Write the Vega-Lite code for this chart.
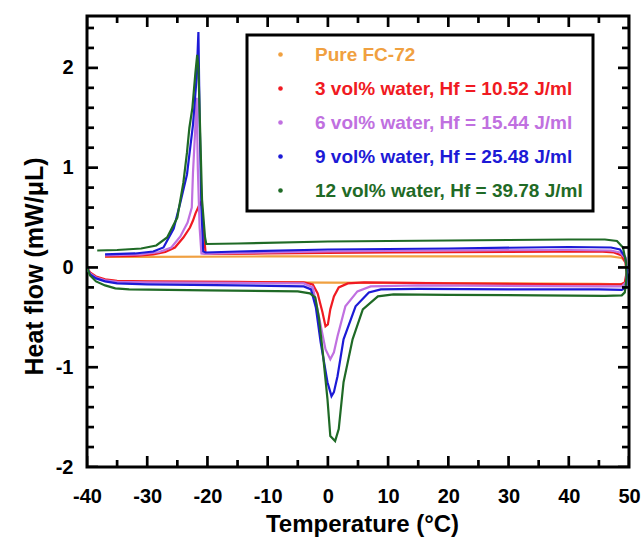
{
  "$schema": "https://vega.github.io/schema/vega-lite/v6.json",
  "width": 542,
  "height": 451,
  "autosize": {"type": "none"},
  "padding": {"left": 87, "top": 16, "right": 13, "bottom": 71},
  "background": "white",
  "config": {
    "view": {"stroke": "black", "strokeWidth": 3},
    "font": "Liberation Sans",
    "axis": {"grid": false, "domain": false, "ticks": false, "labelColor": "black", "titleColor": "black", "labelFont": "Liberation Sans", "titleFont": "Liberation Sans", "labelFontSize": 20, "labelFontWeight": "bold", "titleFontSize": 24, "titleFontWeight": "bold", "labelFlush": false, "labelOverlap": false}
  },
  "resolve": {"axis": {"x": "independent", "y": "independent"}},
  "datasets": {
    "xticks": [
      {"v":-40,"k":"major"},{"v":-35,"k":"minor"},{"v":-30,"k":"major"},{"v":-25,"k":"minor"},{"v":-20,"k":"major"},{"v":-15,"k":"minor"},{"v":-10,"k":"major"},{"v":-5,"k":"minor"},{"v":0,"k":"major"},{"v":5,"k":"minor"},{"v":10,"k":"major"},{"v":15,"k":"minor"},{"v":20,"k":"major"},{"v":25,"k":"minor"},{"v":30,"k":"major"},{"v":35,"k":"minor"},{"v":40,"k":"major"},{"v":45,"k":"minor"},{"v":50,"k":"major"}
    ],
    "yticks": [
      {"v":-2,"k":"major"},{"v":-1.8,"k":"minor"},{"v":-1.6,"k":"minor"},{"v":-1.4,"k":"minor"},{"v":-1.2,"k":"minor"},{"v":-1,"k":"major"},{"v":-0.8,"k":"minor"},{"v":-0.6,"k":"minor"},{"v":-0.4,"k":"minor"},{"v":-0.2,"k":"minor"},{"v":0,"k":"major"},{"v":0.2,"k":"minor"},{"v":0.4,"k":"minor"},{"v":0.6,"k":"minor"},{"v":0.8,"k":"minor"},{"v":1,"k":"major"},{"v":1.2,"k":"minor"},{"v":1.4,"k":"minor"},{"v":1.6,"k":"minor"},{"v":1.8,"k":"minor"},{"v":2,"k":"major"},{"v":2.2,"k":"minor"},{"v":2.4,"k":"minor"}
    ],
    "curves": [
    {"s":"Pure FC-72","i":1,"T":-40,"Q":0.0},{"s":"Pure FC-72","i":2,"T":-39.5,"Q":-0.06},{"s":"Pure FC-72","i":3,"T":-38.5,"Q":-0.1},{"s":"Pure FC-72","i":4,"T":-37,"Q":-0.125},{"s":"Pure FC-72","i":5,"T":-35,"Q":-0.14},{"s":"Pure FC-72","i":6,"T":-30,"Q":-0.145},{"s":"Pure FC-72","i":7,"T":-10,"Q":-0.15},{"s":"Pure FC-72","i":8,"T":10,"Q":-0.155},{"s":"Pure FC-72","i":9,"T":30,"Q":-0.16},{"s":"Pure FC-72","i":10,"T":45,"Q":-0.165},{"s":"Pure FC-72","i":11,"T":48.8,"Q":-0.17},{"s":"Pure FC-72","i":12,"T":49.4,"Q":-0.15},{"s":"Pure FC-72","i":13,"T":49.7,"Q":-0.05},{"s":"Pure FC-72","i":14,"T":49.5,"Q":0.05},{"s":"Pure FC-72","i":15,"T":48.8,"Q":0.095},{"s":"Pure FC-72","i":16,"T":47,"Q":0.11},{"s":"Pure FC-72","i":17,"T":30,"Q":0.11},{"s":"Pure FC-72","i":18,"T":10,"Q":0.11},{"s":"Pure FC-72","i":19,"T":-10,"Q":0.11},{"s":"Pure FC-72","i":20,"T":-30,"Q":0.105},{"s":"Pure FC-72","i":21,"T":-37,"Q":0.105},

    {"s":"3 vol% water, Hf = 10.52 J/ml","i":1,"T":-40,"Q":0.0},{"s":"3 vol% water, Hf = 10.52 J/ml","i":2,"T":-39.5,"Q":-0.05},{"s":"3 vol% water, Hf = 10.52 J/ml","i":3,"T":-38.5,"Q":-0.09},{"s":"3 vol% water, Hf = 10.52 J/ml","i":4,"T":-37,"Q":-0.12},{"s":"3 vol% water, Hf = 10.52 J/ml","i":5,"T":-35,"Q":-0.135},{"s":"3 vol% water, Hf = 10.52 J/ml","i":6,"T":-30,"Q":-0.14},{"s":"3 vol% water, Hf = 10.52 J/ml","i":7,"T":-15,"Q":-0.145},{"s":"3 vol% water, Hf = 10.52 J/ml","i":8,"T":-4,"Q":-0.15},{"s":"3 vol% water, Hf = 10.52 J/ml","i":9,"T":-2.5,"Q":-0.17},{"s":"3 vol% water, Hf = 10.52 J/ml","i":10,"T":-1.7,"Q":-0.26},{"s":"3 vol% water, Hf = 10.52 J/ml","i":11,"T":-0.9,"Q":-0.45},{"s":"3 vol% water, Hf = 10.52 J/ml","i":12,"T":-0.4,"Q":-0.59},{"s":"3 vol% water, Hf = 10.52 J/ml","i":13,"T":0.0,"Q":-0.57},{"s":"3 vol% water, Hf = 10.52 J/ml","i":14,"T":0.4,"Q":-0.42},{"s":"3 vol% water, Hf = 10.52 J/ml","i":15,"T":1.0,"Q":-0.29},{"s":"3 vol% water, Hf = 10.52 J/ml","i":16,"T":1.8,"Q":-0.2},{"s":"3 vol% water, Hf = 10.52 J/ml","i":17,"T":3.3,"Q":-0.16},{"s":"3 vol% water, Hf = 10.52 J/ml","i":18,"T":6,"Q":-0.15},{"s":"3 vol% water, Hf = 10.52 J/ml","i":19,"T":20,"Q":-0.16},{"s":"3 vol% water, Hf = 10.52 J/ml","i":20,"T":40,"Q":-0.17},{"s":"3 vol% water, Hf = 10.52 J/ml","i":21,"T":48.6,"Q":-0.17},{"s":"3 vol% water, Hf = 10.52 J/ml","i":22,"T":49.3,"Q":-0.15},{"s":"3 vol% water, Hf = 10.52 J/ml","i":23,"T":49.6,"Q":-0.05},{"s":"3 vol% water, Hf = 10.52 J/ml","i":24,"T":49.4,"Q":0.05},{"s":"3 vol% water, Hf = 10.52 J/ml","i":25,"T":48.8,"Q":0.12},{"s":"3 vol% water, Hf = 10.52 J/ml","i":26,"T":47.5,"Q":0.15},{"s":"3 vol% water, Hf = 10.52 J/ml","i":27,"T":45,"Q":0.16},{"s":"3 vol% water, Hf = 10.52 J/ml","i":28,"T":30,"Q":0.155},{"s":"3 vol% water, Hf = 10.52 J/ml","i":29,"T":10,"Q":0.15},{"s":"3 vol% water, Hf = 10.52 J/ml","i":30,"T":-10,"Q":0.14},{"s":"3 vol% water, Hf = 10.52 J/ml","i":31,"T":-19,"Q":0.135},{"s":"3 vol% water, Hf = 10.52 J/ml","i":32,"T":-20.3,"Q":0.14},{"s":"3 vol% water, Hf = 10.52 J/ml","i":33,"T":-20.6,"Q":0.35},{"s":"3 vol% water, Hf = 10.52 J/ml","i":34,"T":-21.0,"Q":0.66},{"s":"3 vol% water, Hf = 10.52 J/ml","i":35,"T":-21.4,"Q":0.62},{"s":"3 vol% water, Hf = 10.52 J/ml","i":36,"T":-22,"Q":0.54},{"s":"3 vol% water, Hf = 10.52 J/ml","i":37,"T":-22.4,"Q":0.47},{"s":"3 vol% water, Hf = 10.52 J/ml","i":38,"T":-22.9,"Q":0.4},{"s":"3 vol% water, Hf = 10.52 J/ml","i":39,"T":-24,"Q":0.3},{"s":"3 vol% water, Hf = 10.52 J/ml","i":40,"T":-25.4,"Q":0.2},{"s":"3 vol% water, Hf = 10.52 J/ml","i":41,"T":-27,"Q":0.155},{"s":"3 vol% water, Hf = 10.52 J/ml","i":42,"T":-29,"Q":0.13},{"s":"3 vol% water, Hf = 10.52 J/ml","i":43,"T":-32,"Q":0.115},{"s":"3 vol% water, Hf = 10.52 J/ml","i":44,"T":-37,"Q":0.11},

    {"s":"6 vol% water, Hf = 15.44 J/ml","i":1,"T":-40,"Q":0.0},{"s":"6 vol% water, Hf = 15.44 J/ml","i":2,"T":-39.5,"Q":-0.06},{"s":"6 vol% water, Hf = 15.44 J/ml","i":3,"T":-38.5,"Q":-0.1},{"s":"6 vol% water, Hf = 15.44 J/ml","i":4,"T":-37,"Q":-0.13},{"s":"6 vol% water, Hf = 15.44 J/ml","i":5,"T":-35,"Q":-0.145},{"s":"6 vol% water, Hf = 15.44 J/ml","i":6,"T":-30,"Q":-0.15},{"s":"6 vol% water, Hf = 15.44 J/ml","i":7,"T":-15,"Q":-0.155},{"s":"6 vol% water, Hf = 15.44 J/ml","i":8,"T":-4,"Q":-0.16},{"s":"6 vol% water, Hf = 15.44 J/ml","i":9,"T":-2.5,"Q":-0.2},{"s":"6 vol% water, Hf = 15.44 J/ml","i":10,"T":-1.5,"Q":-0.49},{"s":"6 vol% water, Hf = 15.44 J/ml","i":11,"T":-0.4,"Q":-0.82},{"s":"6 vol% water, Hf = 15.44 J/ml","i":12,"T":0.4,"Q":-0.92},{"s":"6 vol% water, Hf = 15.44 J/ml","i":13,"T":1.0,"Q":-0.85},{"s":"6 vol% water, Hf = 15.44 J/ml","i":14,"T":1.6,"Q":-0.69},{"s":"6 vol% water, Hf = 15.44 J/ml","i":15,"T":2.9,"Q":-0.39},{"s":"6 vol% water, Hf = 15.44 J/ml","i":16,"T":4.9,"Q":-0.24},{"s":"6 vol% water, Hf = 15.44 J/ml","i":17,"T":7.1,"Q":-0.19},{"s":"6 vol% water, Hf = 15.44 J/ml","i":18,"T":15,"Q":-0.18},{"s":"6 vol% water, Hf = 15.44 J/ml","i":19,"T":30,"Q":-0.185},{"s":"6 vol% water, Hf = 15.44 J/ml","i":20,"T":45,"Q":-0.19},{"s":"6 vol% water, Hf = 15.44 J/ml","i":21,"T":48.8,"Q":-0.19},{"s":"6 vol% water, Hf = 15.44 J/ml","i":22,"T":49.5,"Q":-0.15},{"s":"6 vol% water, Hf = 15.44 J/ml","i":23,"T":49.7,"Q":-0.02},{"s":"6 vol% water, Hf = 15.44 J/ml","i":24,"T":49.3,"Q":0.1},{"s":"6 vol% water, Hf = 15.44 J/ml","i":25,"T":48.5,"Q":0.15},{"s":"6 vol% water, Hf = 15.44 J/ml","i":26,"T":47,"Q":0.17},{"s":"6 vol% water, Hf = 15.44 J/ml","i":27,"T":40,"Q":0.175},{"s":"6 vol% water, Hf = 15.44 J/ml","i":28,"T":20,"Q":0.17},{"s":"6 vol% water, Hf = 15.44 J/ml","i":29,"T":0,"Q":0.16},{"s":"6 vol% water, Hf = 15.44 J/ml","i":30,"T":-15,"Q":0.145},{"s":"6 vol% water, Hf = 15.44 J/ml","i":31,"T":-20.5,"Q":0.135},{"s":"6 vol% water, Hf = 15.44 J/ml","i":32,"T":-21.0,"Q":0.14},{"s":"6 vol% water, Hf = 15.44 J/ml","i":33,"T":-21.3,"Q":0.4},{"s":"6 vol% water, Hf = 15.44 J/ml","i":34,"T":-21.6,"Q":1.0},{"s":"6 vol% water, Hf = 15.44 J/ml","i":35,"T":-21.8,"Q":1.7},{"s":"6 vol% water, Hf = 15.44 J/ml","i":36,"T":-22.1,"Q":1.3},{"s":"6 vol% water, Hf = 15.44 J/ml","i":37,"T":-22.4,"Q":0.95},{"s":"6 vol% water, Hf = 15.44 J/ml","i":38,"T":-22.6,"Q":0.6},{"s":"6 vol% water, Hf = 15.44 J/ml","i":39,"T":-23.3,"Q":0.45},{"s":"6 vol% water, Hf = 15.44 J/ml","i":40,"T":-24.5,"Q":0.31},{"s":"6 vol% water, Hf = 15.44 J/ml","i":41,"T":-26,"Q":0.2},{"s":"6 vol% water, Hf = 15.44 J/ml","i":42,"T":-28,"Q":0.155},{"s":"6 vol% water, Hf = 15.44 J/ml","i":43,"T":-31,"Q":0.13},{"s":"6 vol% water, Hf = 15.44 J/ml","i":44,"T":-37,"Q":0.12},

    {"s":"9 vol% water, Hf = 25.48 J/ml","i":1,"T":-40,"Q":0.0},{"s":"9 vol% water, Hf = 25.48 J/ml","i":2,"T":-39.5,"Q":-0.07},{"s":"9 vol% water, Hf = 25.48 J/ml","i":3,"T":-38.5,"Q":-0.11},{"s":"9 vol% water, Hf = 25.48 J/ml","i":4,"T":-37,"Q":-0.14},{"s":"9 vol% water, Hf = 25.48 J/ml","i":5,"T":-35,"Q":-0.16},{"s":"9 vol% water, Hf = 25.48 J/ml","i":6,"T":-30,"Q":-0.17},{"s":"9 vol% water, Hf = 25.48 J/ml","i":7,"T":-15,"Q":-0.18},{"s":"9 vol% water, Hf = 25.48 J/ml","i":8,"T":-4,"Q":-0.19},{"s":"9 vol% water, Hf = 25.48 J/ml","i":9,"T":-2.8,"Q":-0.22},{"s":"9 vol% water, Hf = 25.48 J/ml","i":10,"T":-2.0,"Q":-0.4},{"s":"9 vol% water, Hf = 25.48 J/ml","i":11,"T":-1.2,"Q":-0.75},{"s":"9 vol% water, Hf = 25.48 J/ml","i":12,"T":-0.07,"Q":-1.15},{"s":"9 vol% water, Hf = 25.48 J/ml","i":13,"T":0.6,"Q":-1.29},{"s":"9 vol% water, Hf = 25.48 J/ml","i":14,"T":1.0,"Q":-1.25},{"s":"9 vol% water, Hf = 25.48 J/ml","i":15,"T":1.6,"Q":-1.09},{"s":"9 vol% water, Hf = 25.48 J/ml","i":16,"T":2.6,"Q":-0.72},{"s":"9 vol% water, Hf = 25.48 J/ml","i":17,"T":4.6,"Q":-0.39},{"s":"9 vol% water, Hf = 25.48 J/ml","i":18,"T":6.8,"Q":-0.25},{"s":"9 vol% water, Hf = 25.48 J/ml","i":19,"T":8.8,"Q":-0.22},{"s":"9 vol% water, Hf = 25.48 J/ml","i":20,"T":15,"Q":-0.215},{"s":"9 vol% water, Hf = 25.48 J/ml","i":21,"T":30,"Q":-0.22},{"s":"9 vol% water, Hf = 25.48 J/ml","i":22,"T":45,"Q":-0.22},{"s":"9 vol% water, Hf = 25.48 J/ml","i":23,"T":48.8,"Q":-0.225},{"s":"9 vol% water, Hf = 25.48 J/ml","i":24,"T":49.5,"Q":-0.2},{"s":"9 vol% water, Hf = 25.48 J/ml","i":25,"T":49.7,"Q":-0.05},{"s":"9 vol% water, Hf = 25.48 J/ml","i":26,"T":49.4,"Q":0.1},{"s":"9 vol% water, Hf = 25.48 J/ml","i":27,"T":48.5,"Q":0.18},{"s":"9 vol% water, Hf = 25.48 J/ml","i":28,"T":47,"Q":0.2},{"s":"9 vol% water, Hf = 25.48 J/ml","i":29,"T":40,"Q":0.205},{"s":"9 vol% water, Hf = 25.48 J/ml","i":30,"T":20,"Q":0.19},{"s":"9 vol% water, Hf = 25.48 J/ml","i":31,"T":0,"Q":0.18},{"s":"9 vol% water, Hf = 25.48 J/ml","i":32,"T":-15,"Q":0.16},{"s":"9 vol% water, Hf = 25.48 J/ml","i":33,"T":-20.3,"Q":0.15},{"s":"9 vol% water, Hf = 25.48 J/ml","i":34,"T":-20.7,"Q":0.16},{"s":"9 vol% water, Hf = 25.48 J/ml","i":35,"T":-21.0,"Q":0.6},{"s":"9 vol% water, Hf = 25.48 J/ml","i":36,"T":-21.3,"Q":1.5},{"s":"9 vol% water, Hf = 25.48 J/ml","i":37,"T":-21.5,"Q":2.36},{"s":"9 vol% water, Hf = 25.48 J/ml","i":38,"T":-21.8,"Q":1.9},{"s":"9 vol% water, Hf = 25.48 J/ml","i":39,"T":-22.4,"Q":1.43},{"s":"9 vol% water, Hf = 25.48 J/ml","i":40,"T":-23.4,"Q":0.93},{"s":"9 vol% water, Hf = 25.48 J/ml","i":41,"T":-24.5,"Q":0.65},{"s":"9 vol% water, Hf = 25.48 J/ml","i":42,"T":-25.6,"Q":0.39},{"s":"9 vol% water, Hf = 25.48 J/ml","i":43,"T":-27.3,"Q":0.2},{"s":"9 vol% water, Hf = 25.48 J/ml","i":44,"T":-29,"Q":0.16},{"s":"9 vol% water, Hf = 25.48 J/ml","i":45,"T":-32,"Q":0.14},{"s":"9 vol% water, Hf = 25.48 J/ml","i":46,"T":-37,"Q":0.13},

    {"s":"12 vol% water, Hf = 39.78 J/ml","i":1,"T":-40,"Q":0.0},{"s":"12 vol% water, Hf = 39.78 J/ml","i":2,"T":-39.5,"Q":-0.08},{"s":"12 vol% water, Hf = 39.78 J/ml","i":3,"T":-38.5,"Q":-0.14},{"s":"12 vol% water, Hf = 39.78 J/ml","i":4,"T":-37,"Q":-0.18},{"s":"12 vol% water, Hf = 39.78 J/ml","i":5,"T":-35.3,"Q":-0.21},{"s":"12 vol% water, Hf = 39.78 J/ml","i":6,"T":-33,"Q":-0.22},{"s":"12 vol% water, Hf = 39.78 J/ml","i":7,"T":-20,"Q":-0.23},{"s":"12 vol% water, Hf = 39.78 J/ml","i":8,"T":-5,"Q":-0.24},{"s":"12 vol% water, Hf = 39.78 J/ml","i":9,"T":-3,"Q":-0.26},{"s":"12 vol% water, Hf = 39.78 J/ml","i":10,"T":-2.1,"Q":-0.3},{"s":"12 vol% water, Hf = 39.78 J/ml","i":11,"T":-1.5,"Q":-0.5},{"s":"12 vol% water, Hf = 39.78 J/ml","i":12,"T":-0.9,"Q":-0.82},{"s":"12 vol% water, Hf = 39.78 J/ml","i":13,"T":-0.07,"Q":-1.32},{"s":"12 vol% water, Hf = 39.78 J/ml","i":14,"T":0.4,"Q":-1.69},{"s":"12 vol% water, Hf = 39.78 J/ml","i":15,"T":1.2,"Q":-1.74},{"s":"12 vol% water, Hf = 39.78 J/ml","i":16,"T":1.8,"Q":-1.62},{"s":"12 vol% water, Hf = 39.78 J/ml","i":17,"T":2.6,"Q":-1.15},{"s":"12 vol% water, Hf = 39.78 J/ml","i":18,"T":4.1,"Q":-0.72},{"s":"12 vol% water, Hf = 39.78 J/ml","i":19,"T":5.8,"Q":-0.42},{"s":"12 vol% water, Hf = 39.78 J/ml","i":20,"T":8.3,"Q":-0.29},{"s":"12 vol% water, Hf = 39.78 J/ml","i":21,"T":10.9,"Q":-0.27},{"s":"12 vol% water, Hf = 39.78 J/ml","i":22,"T":20,"Q":-0.275},{"s":"12 vol% water, Hf = 39.78 J/ml","i":23,"T":35,"Q":-0.28},{"s":"12 vol% water, Hf = 39.78 J/ml","i":24,"T":46,"Q":-0.285},{"s":"12 vol% water, Hf = 39.78 J/ml","i":25,"T":48.8,"Q":-0.28},{"s":"12 vol% water, Hf = 39.78 J/ml","i":26,"T":49.3,"Q":-0.25},{"s":"12 vol% water, Hf = 39.78 J/ml","i":27,"T":49.6,"Q":-0.1},{"s":"12 vol% water, Hf = 39.78 J/ml","i":28,"T":49.5,"Q":0.05},{"s":"12 vol% water, Hf = 39.78 J/ml","i":29,"T":49.0,"Q":0.2},{"s":"12 vol% water, Hf = 39.78 J/ml","i":30,"T":48.0,"Q":0.265},{"s":"12 vol% water, Hf = 39.78 J/ml","i":31,"T":46,"Q":0.28},{"s":"12 vol% water, Hf = 39.78 J/ml","i":32,"T":40,"Q":0.28},{"s":"12 vol% water, Hf = 39.78 J/ml","i":33,"T":30,"Q":0.275},{"s":"12 vol% water, Hf = 39.78 J/ml","i":34,"T":20,"Q":0.27},{"s":"12 vol% water, Hf = 39.78 J/ml","i":35,"T":0,"Q":0.26},{"s":"12 vol% water, Hf = 39.78 J/ml","i":36,"T":-15,"Q":0.24},{"s":"12 vol% water, Hf = 39.78 J/ml","i":37,"T":-20.2,"Q":0.235},{"s":"12 vol% water, Hf = 39.78 J/ml","i":38,"T":-20.4,"Q":0.3},{"s":"12 vol% water, Hf = 39.78 J/ml","i":39,"T":-20.9,"Q":0.68},{"s":"12 vol% water, Hf = 39.78 J/ml","i":40,"T":-21.2,"Q":1.35},{"s":"12 vol% water, Hf = 39.78 J/ml","i":41,"T":-21.5,"Q":2.0},{"s":"12 vol% water, Hf = 39.78 J/ml","i":42,"T":-21.7,"Q":2.13},{"s":"12 vol% water, Hf = 39.78 J/ml","i":43,"T":-22.0,"Q":1.95},{"s":"12 vol% water, Hf = 39.78 J/ml","i":44,"T":-22.5,"Q":1.6},{"s":"12 vol% water, Hf = 39.78 J/ml","i":45,"T":-23.0,"Q":1.4},{"s":"12 vol% water, Hf = 39.78 J/ml","i":46,"T":-23.4,"Q":1.15},{"s":"12 vol% water, Hf = 39.78 J/ml","i":47,"T":-24,"Q":0.85},{"s":"12 vol% water, Hf = 39.78 J/ml","i":48,"T":-25,"Q":0.5},{"s":"12 vol% water, Hf = 39.78 J/ml","i":49,"T":-26.7,"Q":0.3},{"s":"12 vol% water, Hf = 39.78 J/ml","i":50,"T":-28.5,"Q":0.22},{"s":"12 vol% water, Hf = 39.78 J/ml","i":51,"T":-31,"Q":0.19},{"s":"12 vol% water, Hf = 39.78 J/ml","i":52,"T":-35,"Q":0.175},{"s":"12 vol% water, Hf = 39.78 J/ml","i":53,"T":-38.3,"Q":0.17}
    ]
  },
  "layer": [
    {
      "data": {"name": "curves"},
      "mark": {"type": "line", "strokeWidth": 2.2, "clip": true},
      "encoding": {
        "x": {"field": "T", "type": "quantitative", "scale": {"domain": [-40, 50], "nice": false, "zero": false},
          "axis": {"orient": "bottom", "values": [-40,-30,-20,-10,0,10,20,30,40,50],
            "labelExpr": "'' + datum.value", "labelPadding": 19,
            "title": "Temperature (°C)", "titleX": 275, "titleY": 64, "titleBaseline": "alphabetic"}},
        "y": {"field": "Q", "type": "quantitative", "scale": {"domain": [-2, 2.52], "nice": false, "zero": false},
          "axis": {"orient": "left", "values": [-2,-1,0,1,2],
            "labelExpr": "'' + datum.value", "labelPadding": 14,
            "title": "Heat flow (mW/μL)", "titleX": -45, "titleY": 250, "titleBaseline": "alphabetic", "titleAngle": -90, "titleFontSize": 25}},
        "color": {"field": "s", "type": "nominal",
          "scale": {"domain": ["Pure FC-72", "3 vol% water, Hf = 10.52 J/ml", "6 vol% water, Hf = 15.44 J/ml", "9 vol% water, Hf = 25.48 J/ml", "12 vol% water, Hf = 39.78 J/ml"],
                    "range": ["#f0a040", "#f01a22", "#c070e0", "#1c1ad6", "#1f6a26"]},
          "legend": {"orient": "none", "legendX": 160, "legendY": 19, "title": null,
            "padding": 10, "symbolType": "circle", "symbolSize": 10, "symbolOffset": 14, "labelOffset": 25, "labelFontSize": 19, "labelFontWeight": "bold", "labelLimit": 400, "rowPadding": 14,
            "encode": {"legend": {"update": {"stroke": {"value": "black"}, "strokeWidth": {"value": 3}, "fill": {"value": "white"}}},
                       "labels": {"update": {"fill": {"scale": "color", "field": "value"}}},
                       "symbols": {"update": {"fill": {"scale": "color", "field": "value"}}}}}},
        "order": {"field": "i", "type": "quantitative"}
      }
    },
    {
      "data": {"name": "xticks"},
      "transform": [{"filter": "datum.k == 'major'"}],
      "mark": {"type": "tick", "orient": "vertical", "color": "black", "opacity": 1, "thickness": 2.7, "size": 22, "clip": true},
      "encoding": {
        "x": {"field": "v", "type": "quantitative", "axis": null},
        "y": {"datum": -2, "type": "quantitative", "axis": null}
      }
    },
    {
      "data": {"name": "xticks"},
      "transform": [{"filter": "datum.k == 'minor'"}],
      "mark": {"type": "tick", "orient": "vertical", "color": "black", "opacity": 1, "thickness": 2.7, "size": 14, "clip": true},
      "encoding": {
        "x": {"field": "v", "type": "quantitative", "axis": null},
        "y": {"datum": -2, "type": "quantitative", "axis": null}
      }
    },
    {
      "data": {"name": "xticks"},
      "transform": [{"filter": "datum.k == 'major'"}],
      "mark": {"type": "tick", "orient": "vertical", "color": "black", "opacity": 1, "thickness": 2.7, "size": 22, "clip": true},
      "encoding": {
        "x": {"field": "v", "type": "quantitative", "axis": null},
        "y": {"datum": 2.52, "type": "quantitative", "axis": null}
      }
    },
    {
      "data": {"name": "xticks"},
      "transform": [{"filter": "datum.k == 'minor'"}],
      "mark": {"type": "tick", "orient": "vertical", "color": "black", "opacity": 1, "thickness": 2.7, "size": 14, "clip": true},
      "encoding": {
        "x": {"field": "v", "type": "quantitative", "axis": null},
        "y": {"datum": 2.52, "type": "quantitative", "axis": null}
      }
    },
    {
      "data": {"name": "yticks"},
      "transform": [{"filter": "datum.k == 'major'"}],
      "mark": {"type": "tick", "orient": "horizontal", "color": "black", "opacity": 1, "thickness": 2.7, "size": 22, "clip": true},
      "encoding": {
        "y": {"field": "v", "type": "quantitative", "axis": null},
        "x": {"datum": -40, "type": "quantitative", "axis": null}
      }
    },
    {
      "data": {"name": "yticks"},
      "transform": [{"filter": "datum.k == 'minor'"}],
      "mark": {"type": "tick", "orient": "horizontal", "color": "black", "opacity": 1, "thickness": 2.7, "size": 14, "clip": true},
      "encoding": {
        "y": {"field": "v", "type": "quantitative", "axis": null},
        "x": {"datum": -40, "type": "quantitative", "axis": null}
      }
    },
    {
      "data": {"name": "yticks"},
      "transform": [{"filter": "datum.k == 'major'"}],
      "mark": {"type": "tick", "orient": "horizontal", "color": "black", "opacity": 1, "thickness": 2.7, "size": 22, "clip": true},
      "encoding": {
        "y": {"field": "v", "type": "quantitative", "axis": null},
        "x": {"datum": 50, "type": "quantitative", "axis": null}
      }
    },
    {
      "data": {"name": "yticks"},
      "transform": [{"filter": "datum.k == 'minor'"}],
      "mark": {"type": "tick", "orient": "horizontal", "color": "black", "opacity": 1, "thickness": 2.7, "size": 14, "clip": true},
      "encoding": {
        "y": {"field": "v", "type": "quantitative", "axis": null},
        "x": {"datum": 50, "type": "quantitative", "axis": null}
      }
    }
  ]
}
